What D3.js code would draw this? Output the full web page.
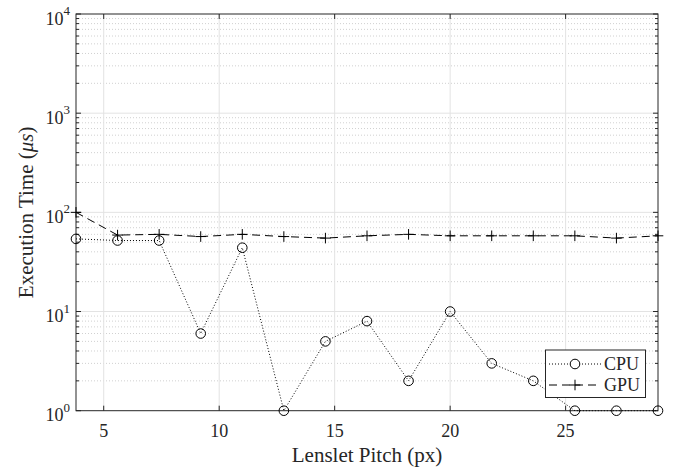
<!DOCTYPE html>
<html>
<head>
<meta charset="utf-8">
<script src="https://cdn.jsdelivr.net/npm/d3@7"></script>
<style>
  html, body { margin: 0; padding: 0; background: #fff; }
  svg { display: block; }
  svg text { font-family: "Liberation Serif", "Times New Roman", Times, serif; fill: #262626; }
</style>
</head>
<body>
<svg id="chart" width="678" height="472" font-family="Liberation Serif, Times New Roman, serif"></svg>
<script>
// ---- data ----
const pitch = [3.8, 5.6, 7.4, 9.2, 11.0, 12.8, 14.6, 16.4, 18.2, 20.0, 21.8, 23.6, 25.4, 27.2, 29.0];
const cpuTime = [54, 52, 52, 6, 44, 1, 5, 8, 2, 10, 3, 2, 1, 1, 1];
const gpuTime = [100, 59, 60, 57, 60, 57, 55, 58, 60, 58, 58, 58, 58, 55, 58];
const xTicks = [5, 10, 15, 20, 25];
const yExponents = [0, 1, 2, 3, 4];
const seriesNames = ["CPU", "GPU"];
const xLabel = "Lenslet Pitch (px)";

// ---- layout ----
const W = 678, H = 472;
const m = { left: 76, right: 20, top: 14, bottom: 61.3 };
const pw = W - m.left - m.right, ph = H - m.top - m.bottom;
const axisColor = "#262626";
const serif = "Liberation Serif, Times New Roman, serif";

const svg = d3.select("#chart");
const g = svg.append("g").attr("transform", `translate(${m.left},${m.top})`);

const x = d3.scaleLinear().domain([3.8, 29]).range([0, pw]);
const y = d3.scaleLog().domain([1, 10000]).range([ph, 0]);

// minor y values
const minorY = [];
for (let k = 0; k < 4; k++) for (let d = 2; d <= 9; d++) minorY.push(d * Math.pow(10, k));
const majorY = yExponents.map(e => Math.pow(10, e));

// ---- grid ----
g.append("g").selectAll("line").data(minorY).join("line")
  .attr("x1", 0).attr("x2", pw)
  .attr("y1", d => y(d)).attr("y2", d => y(d))
  .attr("stroke", "#c4c4c4").attr("stroke-width", 0.8).attr("stroke-dasharray", "1,2");
g.append("g").selectAll("line").data(majorY.slice(1, -1)).join("line")
  .attr("x1", 0).attr("x2", pw)
  .attr("y1", d => y(d)).attr("y2", d => y(d))
  .attr("stroke", "#e3e3e3").attr("stroke-width", 1);
g.append("g").selectAll("line").data(xTicks).join("line")
  .attr("x1", d => x(d)).attr("x2", d => x(d))
  .attr("y1", 0).attr("y2", ph)
  .attr("stroke", "#e3e3e3").attr("stroke-width", 1);

// ---- axes box and ticks ----
const axG = g.append("g").attr("stroke", axisColor).attr("stroke-width", 1);
axG.append("rect").attr("x", 0).attr("y", 0).attr("width", pw).attr("height", ph)
  .attr("fill", "none");
xTicks.forEach(v => {
  axG.append("line").attr("x1", x(v)).attr("x2", x(v)).attr("y1", ph).attr("y2", ph - 5);
  axG.append("line").attr("x1", x(v)).attr("x2", x(v)).attr("y1", 0).attr("y2", 5);
});
majorY.forEach(v => {
  axG.append("line").attr("x1", 0).attr("x2", 5).attr("y1", y(v)).attr("y2", y(v));
  axG.append("line").attr("x1", pw).attr("x2", pw - 5).attr("y1", y(v)).attr("y2", y(v));
});
minorY.forEach(v => {
  axG.append("line").attr("x1", 0).attr("x2", 3).attr("y1", y(v)).attr("y2", y(v));
  axG.append("line").attr("x1", pw).attr("x2", pw - 3).attr("y1", y(v)).attr("y2", y(v));
});

// ---- tick labels ----
g.append("g").selectAll("text").data(xTicks).join("text")
  .attr("x", d => x(d)).attr("y", ph + 26.5)
  .attr("text-anchor", "middle").attr("font-size", 18).attr("font-family", serif)
  .text(d => d);

const yl = g.append("g").selectAll("text").data(yExponents).join("text")
  .attr("x", -6).attr("y", d => y(Math.pow(10, d)) + 10.5)
  .attr("text-anchor", "end").attr("font-size", 18).attr("font-family", serif);
yl.append("tspan").text("10");
yl.append("tspan").attr("dy", -9.5).attr("font-size", 13).text(d => d);

// ---- axis labels ----
svg.append("text")
  .attr("x", m.left + pw / 2).attr("y", 462)
  .attr("text-anchor", "middle").attr("font-size", 21).attr("font-family", serif)
  .text(xLabel);

const ylab = svg.append("text")
  .attr("transform", `translate(33,${m.top + ph / 2}) rotate(-90)`)
  .attr("text-anchor", "middle").attr("font-size", 21).attr("font-family", serif);
ylab.append("tspan").text("Execution Time (");
ylab.append("tspan").attr("font-style", "italic").text("μs");
ylab.append("tspan").text(")");

// ---- series ----
const line = d3.line().x((d, i) => x(pitch[i])).y(d => y(d));
const clipId = "plotclip";
g.append("clipPath").attr("id", clipId).append("rect")
  .attr("x", -8).attr("y", -8).attr("width", pw + 16).attr("height", ph + 16);

const series = g.append("g").attr("clip-path", `url(#${clipId})`);
series.append("path").datum(cpuTime).attr("d", line)
  .attr("fill", "none").attr("stroke", "#000").attr("stroke-width", 1)
  .attr("stroke-dasharray", "1,2");
series.append("path").datum(gpuTime).attr("d", line)
  .attr("fill", "none").attr("stroke", "#000").attr("stroke-width", 1)
  .attr("stroke-dasharray", "8,5");

series.append("g").selectAll("circle").data(cpuTime).join("circle")
  .attr("cx", (d, i) => x(pitch[i])).attr("cy", d => y(d)).attr("r", 4.8)
  .attr("fill", "none").attr("stroke", "#000").attr("stroke-width", 1);

const plus = (sel, cx, cy, s) => {
  sel.append("line").attr("x1", cx - s).attr("x2", cx + s).attr("y1", cy).attr("y2", cy);
  sel.append("line").attr("x1", cx).attr("x2", cx).attr("y1", cy - s).attr("y2", cy + s);
};
const plusG = series.append("g").attr("stroke", "#000").attr("stroke-width", 1);
gpuTime.forEach((d, i) => plus(plusG, x(pitch[i]), y(d), 5.3));

// ---- legend ----
const lg = svg.append("g");
lg.append("rect").attr("x", 545.5).attr("y", 350).attr("width", 100).attr("height", 47.5)
  .attr("fill", "#fff").attr("stroke", axisColor).attr("stroke-width", 1);
const rows = [364, 385];
lg.append("line").attr("x1", 549).attr("x2", 601).attr("y1", rows[0]).attr("y2", rows[0])
  .attr("stroke", "#000").attr("stroke-dasharray", "1,2");
lg.append("circle").attr("cx", 575).attr("cy", rows[0]).attr("r", 4.8)
  .attr("fill", "#fff").attr("stroke", "#000");
lg.append("line").attr("x1", 549).attr("x2", 601).attr("y1", rows[1]).attr("y2", rows[1])
  .attr("stroke", "#000").attr("stroke-dasharray", "8,5");
const lp = lg.append("g").attr("stroke", "#000");
plus(lp, 575, rows[1], 5.3);
seriesNames.forEach((s, i) => {
  lg.append("text").attr("x", 604).attr("y", rows[i] + 6)
    .attr("font-size", 18).attr("font-family", serif).text(s);
});
</script>
</body>
</html>
